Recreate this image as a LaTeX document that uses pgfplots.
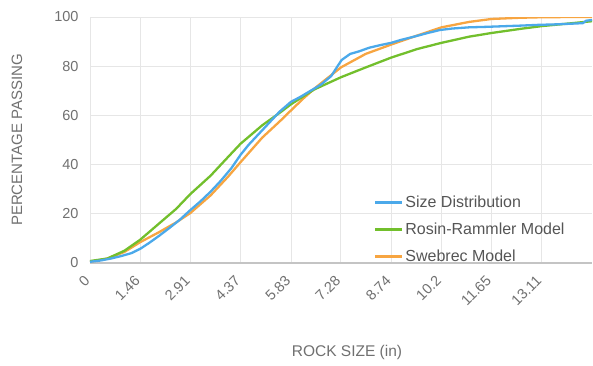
\documentclass[border=0pt]{standalone}
\usepackage{pgfplots}
\pgfplotsset{compat=1.18}
\usepackage{fontspec}
\setmainfont{Liberation Sans}
\definecolor{sdblue}{HTML}{4BA9EA}
\definecolor{rrgreen}{HTML}{72BF2C}
\definecolor{sworange}{HTML}{F7A541}
\definecolor{txt}{HTML}{707070}
\definecolor{legtxt}{HTML}{555555}
\definecolor{gridc}{HTML}{E6E6E6}
\definecolor{axc}{HTML}{C4C4C4}
\begin{document}
\begin{tikzpicture}
\begin{axis}[
  name=ax,
  scale only axis, width=502pt, height=246pt,
  xmin=0, xmax=14.567, ymin=0, ymax=100,
  axis x line*=bottom, axis y line*=left,
  x axis line style={color=axc, line width=1.2pt},
  y axis line style={color=gridc, line width=0.8pt},
  major tick length=0pt,
  grid=major, major grid style={color=gridc, line width=0.8pt},
  ytick={0,20,40,60,80,100},
  xtick={0,1.46,2.91,4.37,5.83,7.28,8.74,10.2,11.65,13.11},
  xticklabels={0,1.46,2.91,4.37,5.83,7.28,8.74,10.2,11.65,13.11},
  /pgf/number format/assume math mode=true,
  every tick label/.append style={font=\fontsize{14.5}{16}\selectfont, text=txt},
  yticklabel style={anchor=east, xshift=-8pt},
  xticklabel style={rotate=45, anchor=east, xshift=-9.3pt, yshift=-8.6pt},
  xlabel={ROCK SIZE (in)}, ylabel={PERCENTAGE PASSING},
  every axis x label/.style={at={(rel axis cs:0.512,0)}, anchor=center, yshift=-89pt, font=\fontsize{15.5}{18}\selectfont, text=txt},
  every axis y label/.style={at={(rel axis cs:0,0.5)}, anchor=center, rotate=90, yshift=73pt, font=\fontsize{15}{18}\selectfont, text=txt},
  legend style={draw=none, fill=none, at={(rel axis cs:0.565,-0.01)}, anchor=south west, font=\fontsize{16}{19}\selectfont, text=legtxt, row sep=10pt, inner sep=0pt},
  legend cell align=left,
  legend image code/.code={\draw[#1, line width=2.6pt] (0pt,0pt) -- (27pt,0pt);},
  every axis plot/.append style={line width=2.3pt, line join=round},
]
\addplot[color=sworange, forget plot] coordinates {
(0,0.5) (0.5,1.8) (1,4.5) (1.46,8.5) (2,12.5) (2.5,16.5) (2.91,20.3) (3.5,27.5) (4,35) (4.37,41)
(5,51) (5.5,57.5) (5.83,62) (6.2,67) (6.58,71.7) (7.28,79.5) (8,85) (8.74,88.8) (9.5,92.5)
(10.2,95.8) (11,98) (11.65,99.2) (12.5,99.7) (13.11,99.9) (14,100) (14.57,100)};
\addplot[color=rrgreen, forget plot] coordinates {
(0,0.8) (0.5,1.8) (1,5) (1.46,9.5) (2,16) (2.5,22) (2.91,28) (3.5,35.5) (4,43) (4.37,48.5)
(5,56) (5.5,61) (5.83,64.5) (6.5,70.5) (7.28,75.5) (8,79.5) (8.74,83.5) (9.5,87) (10.2,89.5)
(11,92) (11.65,93.5) (12.5,95.2) (13.11,96.3) (14,97.5) (14.57,98.3)};
\addplot[color=sdblue, forget plot] coordinates {
(0,0.5) (0.3,1) (0.6,1.8) (0.9,2.8) (1.2,4) (1.46,5.8) (1.7,8) (2.0,11) (2.3,14.2) (2.6,17.5)
(2.91,21.5) (3.2,25) (3.5,29) (3.8,33.5) (4.1,38.5) (4.37,44) (4.6,48) (4.9,52.5) (5.2,57)
(5.5,61.5) (5.83,65.5) (6.1,67.5) (6.4,70) (6.7,72.5) (7.0,76) (7.16,79.5) (7.3,82.5) (7.55,85)
(7.8,86) (8.1,87.5) (8.4,88.5) (8.74,89.5) (9.0,90.6) (9.4,92) (9.8,93.5) (10.15,94.7)
(10.5,95.3) (11,95.8) (11.5,96) (11.9,96.2) (12.5,96.5) (13,96.8) (13.5,97) (14,97.3)
(14.3,97.5) (14.4,98.5) (14.57,98.8)};
\addlegendimage{color=sdblue}
\addlegendentry{Size Distribution}
\addlegendimage{color=rrgreen}
\addlegendentry{Rosin-Rammler Model}
\addlegendimage{color=sworange}
\addlegendentry{Swebrec Model}
\end{axis}
\pgfresetboundingbox
\path (ax.south west) ++(-90pt,-102pt) coordinate (A);
\path (ax.north east) ++(1pt,17pt) coordinate (B);
\path[use as bounding box] (A) rectangle (B);
\end{tikzpicture}
\end{document}
